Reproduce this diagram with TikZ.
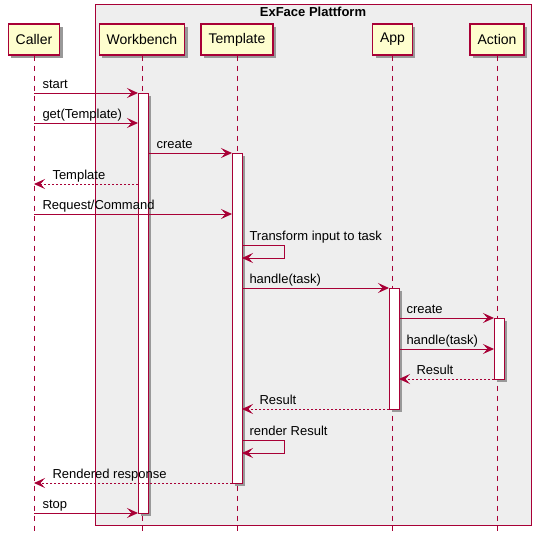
\documentclass[tikz,border=0pt]{standalone}
\usepackage{fontspec}
\setmainfont{Liberation Sans}
\usepackage{tikz}
\usetikzlibrary{arrows.meta,shadows}
\definecolor{umlred}{HTML}{A80036}
\definecolor{umlcream}{HTML}{FEFECE}
\definecolor{umlgray}{HTML}{EEEEEE}

\begin{document}
\begin{tikzpicture}[x=1pt,y=-1pt,>={Stealth[length=11pt,width=10pt,inset=4.5pt]},
  shade/.style={drop shadow={shadow xshift=3pt,shadow yshift=-3pt,fill=black!40,opacity=1}},
  part/.style={draw=umlred,line width=1.4pt,fill=umlcream,inner xsep=7.5pt,minimum height=31pt,font=\fontsize{14}{16}\selectfont,shade},
  act/.style={draw=umlred,line width=1pt,fill=white,minimum width=10pt,inner sep=0pt,outer sep=0pt,shade},
  life/.style={umlred,line width=1pt,dash pattern=on 5pt off 5pt},
  msg/.style={umlred,line width=1pt,->},
  ret/.style={msg,dash pattern=on 2pt off 2pt},
  lbl/.style={black,font=\fontsize{13}{15}\selectfont,inner sep=0pt,anchor=base west,yshift=5pt}]
\useasboundingbox (0,0) rectangle (541,542);
\node[draw=umlred,fill=umlgray,line width=1pt,minimum width=436pt,minimum height=521pt,inner sep=0pt] (plattform) at (313,264.5) {};
\node[font=\bfseries\fontsize{13}{15}\selectfont,anchor=base,inner sep=0pt] (ptitle) at ([yshift=-13pt]plattform.north) {ExFace Plattform};
\node[part] (caller) at (34,39.5) {Caller};
\node[part] (workbench) at (142,39.5) {Workbench};
\node[part] (template) at (237,39.5) {Template};
\node[part] (app) at (392.5,39.5) {App};
\node[part] (action) at (497,39.5) {Action};
\foreach \p in {caller,workbench,template,app,action}
  \draw[life] (\p.south) -- (\p.south |- 0,532);
\node[act,minimum height=420pt] (wbact) at (143,303) {};
\node[act,minimum height=330pt] (tmact) at (237,318) {};
\node[act,minimum height=121pt] (apact) at (394,348.5) {};
\node[act,minimum height=61pt] (acact) at (499,348.5) {};
\draw[msg] (caller |- 0,93) -- node[lbl,at start,xshift=8pt] {start} (wbact.north west);
\draw[msg] (caller |- 0,123) -- node[lbl,at start,xshift=8pt] {get(Template)} (wbact.west |- 0,123);
\draw[msg] (wbact.east |- 0,153) -- node[lbl,at start,xshift=8pt] {create} (tmact.north west);
\draw[ret] (wbact.west |- 0,184) -- node[lbl,at end,xshift=18pt] {Template} (caller |- 0,184);
\draw[msg] (caller |- 0,214) -- node[lbl,at start,xshift=8pt] {Request/Command} (tmact.west |- 0,214);
\draw[msg] (tmact.east |- 0,245) -- node[lbl,at start,xshift=7pt] {Transform input to task} ++(42,0) -- ++(0,13) -- (tmact.east |- 0,258);
\draw[msg] (tmact.east |- 0,288) -- node[lbl,at start,xshift=7pt] {handle(task)} (apact.north west);
\draw[msg] (apact.east |- 0,318) -- node[lbl,at start,xshift=7pt] {create} (acact.north west);
\draw[msg] (apact.east |- 0,349) -- node[lbl,at start,xshift=7pt] {handle(task)} (acact.west |- 0,349);
\draw[ret] (acact.south west) -- node[lbl,at end,xshift=17pt] {Result} (apact.east |- 0,379);
\draw[ret] (apact.south west) -- node[lbl,at end,xshift=17pt] {Result} (tmact.east |- 0,409);
\draw[msg] (tmact.east |- 0,440) -- node[lbl,at start,xshift=7pt] {render Result} ++(42,0) -- ++(0,13) -- (tmact.east |- 0,453);
\draw[ret] (tmact.south west) -- node[lbl,at end,xshift=18pt] {Rendered response} (caller |- 0,483);
\draw[msg] (caller |- 0,513) -- node[lbl,at start,xshift=8pt] {stop} (wbact.south west);
\end{tikzpicture}
\end{document}
